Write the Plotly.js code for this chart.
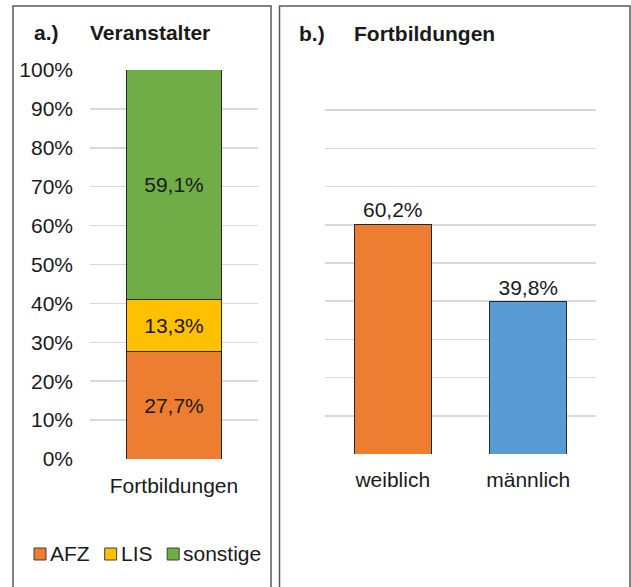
<!DOCTYPE html>
<html>
<head>
<meta charset="utf-8">
<script src="https://cdn.plot.ly/plotly-3.0.1.min.js"></script>
<style>html,body{margin:0;padding:0;background:#fff;}#chart{width:631px;height:587px;}</style>
</head>
<body>
<div id="chart"></div>
<script>
// ---- data ----
var panelATitle = "Veranstalter";
var panelACategory = ["Fortbildungen"];
var organizerNames = ["AFZ", "LIS", "sonstige"];
var organizerValues = [27.7, 13.3, 59.1];
var organizerColors = ["#ED7D31", "#FFC000", "#70AD47"];

var panelBTitle = "Fortbildungen";
var genderCategories = ["weiblich", "männlich"];
var genderValues = [60.2, 39.8];
var genderColors = ["#ED7D31", "#5B9BD5"];

var yTickValues = [0, 10, 20, 30, 40, 50, 60, 70, 80, 90, 100];
var yTickLabels = ["0%", "10%", "20%", "30%", "40%", "50%", "60%", "70%", "80%", "90%", "100%"];

// ---- helpers ----
var W = 631, H = 587;
function px(x) { return x / W; }
function py(y) { return 1 - y / H; }
function fmt(v) { return v.toFixed(1).replace('.', ',') + '%'; }
var FONT = "'Liberation Sans', Arial, sans-serif";
var TXT = "#1a1a1a";
var FS = 21;

var traces = [];
organizerNames.forEach(function (name, i) {
  traces.push({
    type: 'bar', name: name, x: panelACategory, y: [organizerValues[i]],
    xaxis: 'x', yaxis: 'y',
    marker: { color: organizerColors[i], line: { color: '#262626', width: 1 } },
    text: [fmt(organizerValues[i])], textposition: 'inside', insidetextanchor: 'middle',
    textangle: 0, textfont: { family: FONT, size: FS, color: TXT },
    hoverinfo: 'skip', showlegend: false
  });
});
traces.push({
  type: 'bar', x: genderCategories, y: genderValues, xaxis: 'x2', yaxis: 'y2',
  marker: { color: genderColors, line: { color: '#262626', width: 1 } },
  text: genderValues.map(fmt), textposition: 'outside', cliponaxis: false,
  textangle: 0, textfont: { family: FONT, size: FS, color: TXT },
  hoverinfo: 'skip', showlegend: false
});

var gridColor = '#d9d9d9';
var layout = {
  width: W, height: H,
  margin: { l: 0, r: 0, t: 0, b: 0 },
  paper_bgcolor: '#fff', plot_bgcolor: 'rgba(0,0,0,0)',
  barmode: 'stack', bargap: 0.43,
  showlegend: false,
  font: { family: FONT, size: FS, color: TXT },
  xaxis: {
    domain: [px(90), px(258)], anchor: 'y', showgrid: false, zeroline: false, showline: false,
    ticks: '', ticklabelstandoff: 12, tickfont: { family: FONT, size: FS, color: TXT }, fixedrange: true
  },
  yaxis: {
    domain: [py(459), py(70)], anchor: 'x', range: [0, 100],
    tickvals: yTickValues, ticktext: yTickLabels, showgrid: true, gridcolor: gridColor, gridwidth: 1.5,
    zeroline: false, showline: false, ticks: '', ticklabelstandoff: 16,
    tickfont: { family: FONT, size: FS, color: TXT }, fixedrange: true
  },
  xaxis2: {
    domain: [px(325), px(596)], anchor: 'y2', showgrid: false, zeroline: false, showline: false,
    ticks: '', ticklabelstandoff: 11, tickfont: { family: FONT, size: FS, color: TXT }, fixedrange: true
  },
  yaxis2: {
    domain: [py(454), py(72)], anchor: 'x2', range: [0, 100],
    tickvals: yTickValues, showticklabels: false, showgrid: true, gridcolor: gridColor, gridwidth: 1.5,
    zeroline: false, showline: false, ticks: '', fixedrange: true
  },
  shapes: [
    { type: 'rect', xref: 'paper', yref: 'paper', x0: px(13), x1: px(271), y0: py(6), y1: py(600),
      line: { color: '#595959', width: 1.5 }, fillcolor: 'rgba(0,0,0,0)', layer: 'below' },
    { type: 'rect', xref: 'paper', yref: 'paper', x0: px(279.5), x1: px(630), y0: py(6), y1: py(600),
      line: { color: '#595959', width: 1.5 }, fillcolor: 'rgba(0,0,0,0)', layer: 'below' }
  ],
  annotations: [
    { text: '<b>a.)</b>', xref: 'paper', yref: 'paper', x: px(32), y: py(32), xanchor: 'left', yanchor: 'middle',
      showarrow: false, font: { family: FONT, size: FS, color: TXT } },
    { text: '<b>' + panelATitle + '</b>', xref: 'paper', yref: 'paper', x: px(88), y: py(32), xanchor: 'left', yanchor: 'middle',
      showarrow: false, font: { family: FONT, size: FS, color: TXT } },
    { text: '<b>b.)</b>', xref: 'paper', yref: 'paper', x: px(297), y: py(33), xanchor: 'left', yanchor: 'middle',
      showarrow: false, font: { family: FONT, size: FS, color: TXT } },
    { text: '<b>' + panelBTitle + '</b>', xref: 'paper', yref: 'paper', x: px(352), y: py(33), xanchor: 'left', yanchor: 'middle',
      showarrow: false, font: { family: FONT, size: FS, color: TXT } }
  ]
};

// custom legend (Excel style: small square, close text)
var cv = document.createElement('canvas').getContext('2d');
cv.font = FS + "px 'Liberation Sans'";
var lx = 34, ly = 553, sq = 12;
organizerNames.forEach(function (name, i) {
  layout.shapes.push({ type: 'rect', xref: 'paper', yref: 'paper',
    x0: px(lx), x1: px(lx + sq), y0: py(ly - sq / 2 + 1), y1: py(ly + sq / 2 + 1),
    fillcolor: organizerColors[i], line: { color: '#404040', width: 1 } });
  layout.annotations.push({ text: name, xref: 'paper', yref: 'paper', x: px(lx + sq + 2), y: py(ly),
    xanchor: 'left', yanchor: 'middle', showarrow: false, font: { family: FONT, size: FS, color: TXT } });
  lx += sq + 4 + cv.measureText(name).width + 15;
});

Plotly.newPlot('chart', traces, layout, { displayModeBar: false, staticPlot: true });
</script>
</body>
</html>
